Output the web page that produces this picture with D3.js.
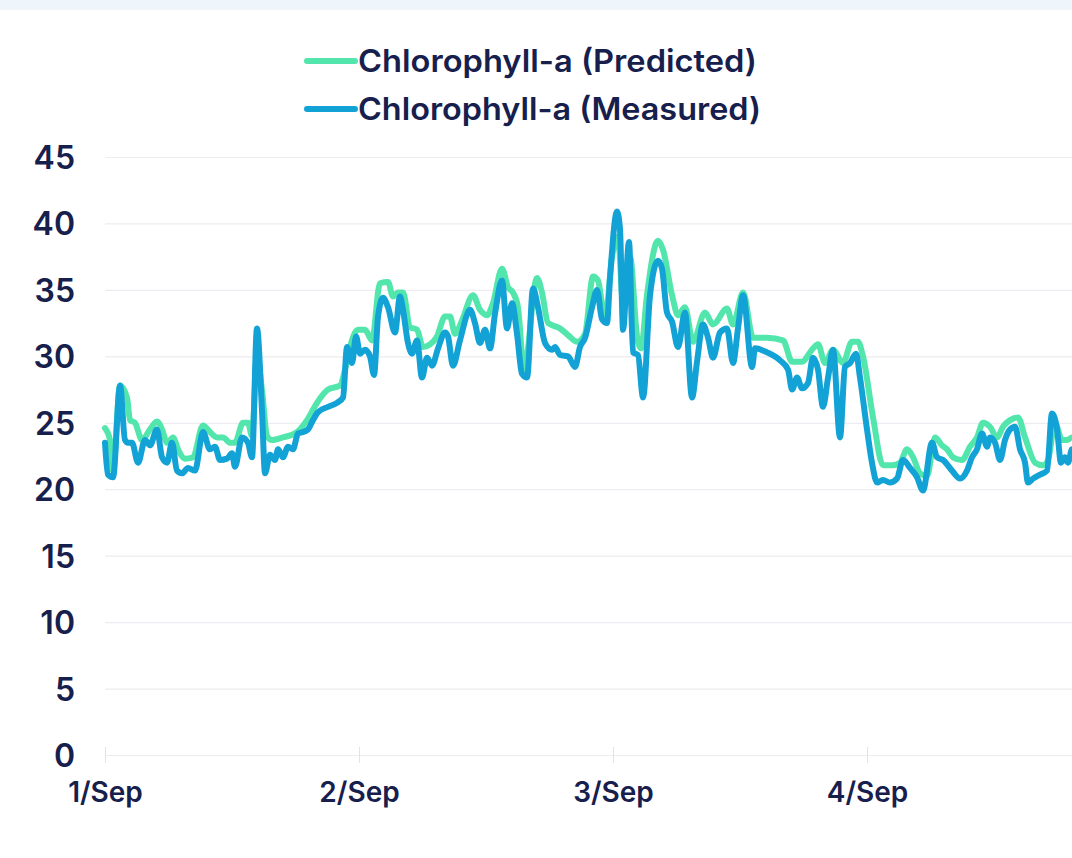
<!DOCTYPE html>
<html>
<head>
<meta charset="utf-8">
<script src="https://cdn.jsdelivr.net/npm/d3@7"></script>
<style>
  html, body { margin: 0; padding: 0; background: #ffffff; overflow: hidden; }
  svg { display: block; }
</style>
</head>
<body>
<svg id="chart" width="1072" height="858"></svg>
<script>
// ---- data (hours since 1 Sep 00:00, chlorophyll-a µg/L) ----
const seriesNames = ["Chlorophyll-a (Predicted)", "Chlorophyll-a (Measured)"];
const yTicks = [0, 5, 10, 15, 20, 25, 30, 35, 40, 45];
const dayLabels = ["1/Sep", "2/Sep", "3/Sep", "4/Sep"];

const predictedHours = [0,0.47,0.76,1.42,2.08,2.36,2.83,3.50,4.25,4.91,5.39,5.86,6.43,6.90,7.56,8.32,9.26,9.92,10.58,11.15,11.81,12.28,13.04,13.51,13.89,14.36,14.83,15.31,15.78,16.82,18.14,19.09,20.03,21.07,22.21,22.68,23.15,23.91,24.57,25.23,25.98,26.74,27.21,27.69,28.16,28.82,29.48,30.05,30.71,31.37,32.13,32.60,33.07,33.73,34.77,35.43,36.10,36.66,37.51,38.08,38.55,39.02,39.59,40.82,41.29,41.86,43.00,43.75,44.60,45.36,46.11,46.58,47.25,47.91,48.47,48.95,49.61,50.27,50.65,51.21,52.25,52.73,53.58,54.14,54.80,55.56,56.69,57.45,58.77,59.34,60.29,61.23,62.55,64.07,64.92,65.86,66.90,67.37,68.03,68.79,69.73,70.58,71.15,71.62,72.57,73.51,74.36,75.12,75.78,76.35,77.01,77.67,78.43,79.09,79.56,80.13,80.98,81.73,82.39,82.96,83.62,84.29,84.85,85.52,86.27,86.93,87.88,88.63,89.11,89.77,90.43,90.90,91.37,92.0];
const predictedValues = [24.6,23.7,21.4,27.8,26.9,25.2,25.0,23.7,24.5,25.1,24.5,23.5,23.9,23.0,22.3,22.4,24.8,24.3,23.9,23.9,23.5,23.5,25.0,25.0,24.0,30.0,27.5,24.0,23.7,23.9,24.3,25.2,26.5,27.5,27.8,29.0,30.7,32.0,32.0,31.2,35.5,35.6,34.5,34.8,34.8,32.2,32.0,30.7,30.9,31.5,33.0,33.0,31.7,32.7,34.6,33.5,33.1,34.0,36.6,35.2,34.8,33.7,29.0,35.9,34.8,32.5,32.1,31.6,31.1,31.7,36.0,35.7,32.8,37.5,39.0,34.0,37.5,31.5,30.6,34.6,38.7,38.0,34.6,33.1,33.7,31.1,33.3,32.4,33.6,32.4,34.8,31.4,31.4,31.2,29.6,29.6,30.6,30.9,29.5,30.5,29.5,31.1,31.1,30.0,25.4,21.8,21.8,22.0,23.0,22.4,21.2,21.0,23.9,23.3,23.0,22.4,22.2,23.2,23.9,25.0,24.7,23.9,24.7,25.2,25.4,23.9,22.0,21.8,22.2,25.0,23.7,23.7,23.9,23.6];

const measuredHours = [0,0.28,0.76,1.42,1.89,2.17,2.55,3.12,3.78,4.25,4.91,5.39,5.86,6.33,6.80,7.28,7.84,8.50,9.26,9.92,10.39,10.87,11.53,12.00,12.28,12.95,13.51,13.89,14.36,14.83,15.12,15.59,16.06,16.35,16.82,17.29,17.76,18.24,18.71,19.18,19.65,20.13,21.07,21.92,22.49,22.87,23.34,23.72,24.10,24.57,25.04,25.42,25.80,26.27,26.74,27.40,27.87,28.16,28.63,29.01,29.48,29.95,30.43,30.90,31.47,32.13,32.41,32.88,33.54,34.49,34.96,35.43,35.91,36.38,36.85,37.51,37.99,38.46,38.93,39.40,39.88,40.44,40.91,41.58,42.24,42.52,43.00,43.75,44.41,44.88,45.36,46.02,46.49,46.96,47.43,47.72,48.38,48.66,48.95,49.51,49.89,50.36,50.84,51.50,52.25,52.63,53.10,53.58,54.14,54.80,55.47,55.94,56.50,56.98,57.45,58.11,58.77,59.34,59.81,60.29,61.14,61.42,62.55,63.78,64.54,64.92,65.39,65.86,66.43,66.90,67.37,67.84,68.32,68.79,69.45,69.92,70.40,70.96,71.34,72.00,72.47,72.95,73.51,74.17,74.84,75.40,76.07,76.73,77.29,78.14,78.62,79.18,80.03,80.79,81.45,81.92,82.39,82.87,83.34,83.62,84.10,84.57,85.04,85.52,85.99,86.46,86.93,87.21,87.69,88.35,89.01,89.48,89.96,90.33,90.71,90.99,91.37,92.0];
const measuredValues = [23.5,21.1,20.9,27.8,23.7,23.5,23.5,22.0,23.7,23.3,24.5,22.4,22.0,23.5,21.4,21.2,21.6,21.4,24.3,23.0,23.2,22.2,22.3,22.7,21.7,23.9,23.5,22.4,32.1,26.0,21.2,22.6,22.2,23.0,22.4,23.2,23.0,24.2,24.3,24.5,25.2,25.8,26.2,26.5,26.9,30.7,29.5,31.5,30.2,30.5,30.0,28.6,33.0,34.4,33.7,31.8,34.5,33.5,31.0,30.2,31.2,28.4,29.9,29.3,30.6,31.8,31.5,29.3,31.2,33.5,32.5,31.0,32.0,30.6,33.2,35.7,32.1,34.0,31.7,28.7,28.4,35.1,33.7,31.0,30.5,30.7,30.1,30.0,29.2,30.7,31.4,33.7,35.0,32.8,32.5,35.9,40.9,39.6,32.0,38.6,30.3,30.1,26.9,34.6,37.2,36.6,33.3,32.6,30.7,33.3,26.9,29.6,32.4,31.4,29.9,31.8,32.1,29.5,32.1,34.6,29.2,30.6,30.3,29.7,29.0,27.5,28.4,27.6,28.0,29.9,29.0,26.2,28.4,30.5,23.9,29.2,29.5,30.2,28.4,24.5,22.0,20.5,20.7,20.5,20.8,22.2,21.6,20.9,19.9,23.5,22.4,22.2,21.4,20.8,21.4,22.4,23.0,24.2,23.2,23.9,23.5,22.2,23.7,24.5,24.7,23.0,22.0,20.5,20.8,21.1,21.4,25.7,24.5,22.0,22.4,22.0,23.0,22.4];

const colors = ["#52e6ad", "#12a2d6"];
const textColor = "#17204d";
const fontFamily = "Inter, 'Noto Sans', Roboto, sans-serif";

// ---- layout ----
const W = 1072, H = 858;
const plot = { left: 105, right: 1072, top: 157, bottom: 755 };
const visibleHours = 91.37;

const start = new Date(2023, 8, 1, 0, 0, 0);
const toDate = h => new Date(start.getTime() + h * 3600 * 1000);

const x = d3.scaleTime()
  .domain([start, toDate(visibleHours)])
  .range([plot.left, plot.right]);
const y = d3.scaleLinear().domain([0, 45]).range([plot.bottom, plot.top]);

const svg = d3.select("#chart");

// top band
svg.append("rect").attr("x", 0).attr("y", 0).attr("width", W).attr("height", 10)
  .attr("fill", "#eef5fb");

// clip
svg.append("defs").append("clipPath").attr("id", "clip")
  .append("rect").attr("x", plot.left - 10).attr("y", 0)
  .attr("width", plot.right - plot.left + 10).attr("height", H);

// gridlines + y labels
const yAxis = d3.axisLeft(y).tickValues(yTicks)
  .tickSize(-(plot.right - plot.left)).tickPadding(30).tickFormat(d3.format("d"));
const gy = svg.append("g").attr("transform", `translate(${plot.left},0)`).call(yAxis);
gy.select(".domain").remove();
gy.selectAll(".tick line").attr("stroke", "#ececf1").attr("stroke-width", 1.2);
gy.selectAll(".tick text")
  .attr("fill", textColor)
  .attr("font-family", fontFamily)
  .attr("font-size", 32)
  .attr("font-weight", 600)
  .attr("dy", "0.36em");

// x axis
const dayTicks = d3.timeDay.range(start, toDate(visibleHours));
const xAxis = d3.axisBottom(x).tickValues(dayTicks)
  .tickSize(8).tickPadding(19)
  .tickFormat((d, i) => dayLabels[i]);
const gx = svg.append("g").attr("transform", `translate(0,${plot.bottom})`).call(xAxis);
gx.select(".domain").remove();
gx.selectAll(".tick line").attr("stroke", "#e2e2e8").attr("y1", -8).attr("y2", 8);
gx.selectAll(".tick text")
  .attr("fill", textColor)
  .attr("font-family", fontFamily)
  .attr("font-size", 28)
  .attr("font-weight", 600);

// lines
const line = d3.line()
  .x(d => x(toDate(d.h)))
  .y(d => y(d.v))
  .curve(d3.curveMonotoneX);

const predicted = predictedHours.map((h, i) => ({ h, v: predictedValues[i] }));
const measured = measuredHours.map((h, i) => ({ h, v: measuredValues[i] }));

const lines = svg.append("g").attr("clip-path", "url(#clip)");
[predicted, measured].forEach((data, i) => {
  lines.append("path")
    .datum(data)
    .attr("fill", "none")
    .attr("stroke", colors[i])
    .attr("stroke-width", 6)
    .attr("stroke-linejoin", "round")
    .attr("stroke-linecap", "round")
    .attr("d", line);
});

// legend
const legend = svg.append("g");
const legendY = [61, 109];
const legendWidths = [399, 403];
seriesNames.forEach((name, i) => {
  const g = legend.append("g").attr("transform", `translate(305,${legendY[i]})`);
  g.append("line").attr("x1", 2).attr("x2", 50).attr("y1", 0).attr("y2", 0)
    .attr("stroke", colors[i]).attr("stroke-width", 6).attr("stroke-linecap", "round");
  g.append("text")
    .attr("x", 53).attr("y", 0).attr("dy", "0.36em")
    .attr("fill", textColor)
    .attr("font-family", fontFamily)
    .attr("font-size", 31)
    .attr("font-weight", 600)
    .attr("textLength", legendWidths[i])
    .attr("lengthAdjust", "spacingAndGlyphs")
    .text(name);
});
</script>
</body>
</html>
